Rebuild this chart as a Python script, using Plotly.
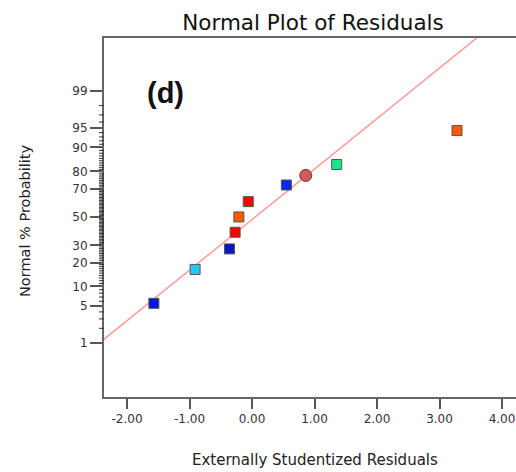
import plotly.graph_objects as go
from statistics import NormalDist

nd = NormalDist()
def z(p):
    return nd.inv_cdf(p / 100.0)

# Data
residuals = [-1.57, -0.91, -0.36, -0.27, -0.21, -0.06, 0.55, 1.355, 3.28]
probabilities = [5.56, 16.67, 27.78, 38.89, 50.0, 61.11, 72.22, 83.33, 94.44]
colors = ["#0a14e6", "#22c8f0", "#0a14c8", "#ff0000", "#ff5a00", "#ff0000",
          "#0a28f0", "#19e88a", "#ff5a00"]
circle_x = [0.86]
circle_p = [77.8]

# reference line, read at two points (x, probit z)
fit_x = [-2.37, 3.595]
fit_z = [-2.257, 3.30]
slope = (fit_z[1] - fit_z[0]) / (fit_x[1] - fit_x[0])
intercept = fit_z[0] - slope * fit_x[0]
line_x = [-2.5, 4.5]

major_ticks = [1, 5, 10, 20, 30, 50, 70, 80, 90, 95, 99]
minor_ticks = [p for p in range(1, 100) if p not in major_ticks]
x_ticks = [-2, -1, 0, 1, 2, 3, 4]

L, R, T, B = 104, 0, 38, 75
W, H = 516, 472
PW = W - L - R
PH = H - T - B

fig = go.Figure()
fig.add_trace(go.Scatter(
    x=line_x, y=[intercept + slope * v for v in line_x], mode="lines",
    line=dict(color="#ff9a9a", width=1.5), hoverinfo="skip", showlegend=False))
fig.add_trace(go.Scatter(
    x=residuals, y=[z(p) for p in probabilities], mode="markers",
    marker=dict(symbol="square", size=10, color=colors,
                line=dict(color="#555555", width=1)), showlegend=False))
fig.add_trace(go.Scatter(
    x=circle_x, y=[z(p) for p in circle_p], mode="markers",
    marker=dict(symbol="circle", size=12, color="#d05c5c",
                line=dict(color="#7a3030", width=1)), showlegend=False))

shapes = [dict(type="line", xref="paper", yref="y", x0=-5 / PW, x1=0,
               y0=z(p), y1=z(p), line=dict(color="#333333", width=1),
               layer="above") for p in minor_ticks]

fig.update_layout(
    width=W, height=H,
    margin=dict(l=L, r=R, t=T, b=B),
    paper_bgcolor="white", plot_bgcolor="white",
    font=dict(family="DejaVu Sans, sans-serif", color="#333333"),
    title=dict(text="Normal Plot of Residuals", x=313 / W, xanchor="center",
               y=1 - 22 / H, yanchor="middle",
               font=dict(size=21.5, color="#111111")),
    xaxis=dict(range=[-2.368, 4.224], tickvals=x_ticks,
               ticktext=["%.2f" % v for v in x_ticks],
               showgrid=False, zeroline=False, showline=True, mirror=True,
               linecolor="#666666", linewidth=2, ticks="outside", ticklen=10,
               tickcolor="#555555", tickwidth=1.5,
               tickfont=dict(size=12, color="#333333")),
    yaxis=dict(range=[-3.32, 3.30], tickmode="array",
               tickvals=[z(p) for p in major_ticks],
               ticktext=[str(p) for p in major_ticks],
               showgrid=False, zeroline=False, showline=True, mirror=False,
               linecolor="#666666", linewidth=2, ticks="outside", ticklen=12,
               tickcolor="#555555", tickwidth=1.5,
               tickfont=dict(size=12, color="#333333")),
    shapes=shapes,
    annotations=[
        dict(text="<b>(d)</b>", xref="paper", yref="paper",
             x=(165 - L) / PW, y=(H - B - 93) / PH,
             xanchor="center", yanchor="middle", showarrow=False,
             font=dict(size=29, color="#111111",
                       family="Liberation Sans, Arial, sans-serif")),
        dict(text="Externally Studentized Residuals", xref="paper", yref="paper",
             x=(315 - L) / PW, y=(H - B - 460) / PH,
             xanchor="center", yanchor="middle", showarrow=False,
             font=dict(size=15, color="#222222")),
        dict(text="Normal % Probability", xref="paper", yref="paper",
             x=(25 - L) / PW, y=(H - B - 221) / PH, textangle=-90,
             xanchor="center", yanchor="middle", showarrow=False,
             font=dict(size=14.5, color="#222222")),
    ],
)

fig.write_html("out.html")
